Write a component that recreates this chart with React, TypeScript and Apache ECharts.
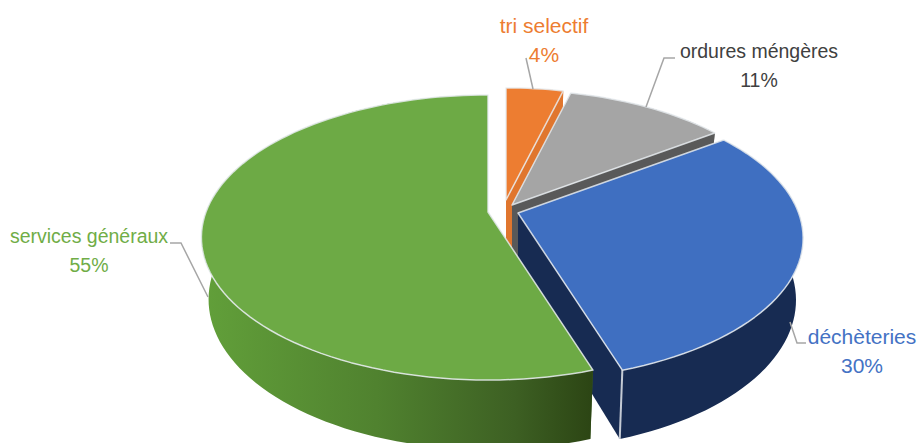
import React, { useEffect, useRef } from "react";
import * as echarts from "echarts";

const names = ["tri selectif", "ordures méngères", "déchèteries", "services généraux"];
const values = [4, 11, 30, 55];
const topColors = ["#ED7D31", "#A5A5A5", "#3F6FC1", "#6DAA45"];
const wallColors = ["#E0762E", "#595959", "#172B52", "#4C7A2E"];
const labelColors = ["#ED7D31", "#404040", "#4472C4", "#70AD47"];
const radii = [0.95, 0.98, 0.995, 1];
const tips = [[506, 200], [512, 205], [518, 213], [488, 212]];
const labelCenters = [[544, 25], [759, 51], [862, 336], [89, 236]];
const labelSizes = [21, 19.5, 21, 19.5];
const leaders = [
  [[526, 58], [533, 89]],
  [[675, 58], [664, 58], [646, 107]],
  [[790, 322], [797, 343], [806, 343]],
  [[170, 243], [181, 243], [208, 297]],
];

const A = 282;
const B = 138;
const P = 0.1786;
const H0 = 60.5;
const K = 0.975;

const total = values.reduce((a, b) => a + b, 0);

function topPoint(i: number, deg: number): number[] {
  const t = (deg * Math.PI) / 180;
  const X = radii[i] * Math.sin(t);
  const Y = radii[i] * Math.cos(t);
  const f = 1 / (1 + P * Y);
  return [tips[i][0] + A * X * f, tips[i][1] - B * Y * f];
}
function bottomPoint(i: number, deg: number): number[] {
  const t = (deg * Math.PI) / 180;
  const Y = radii[i] * Math.cos(t);
  const f = 1 / (1 + P * Y);
  const p = topPoint(i, deg);
  return [tips[i][0] + (p[0] - tips[i][0]) * K, tips[i][1] + (p[1] - tips[i][1]) * K + H0 * f];
}
function arc(i: number, a0: number, a1: number, fn: (i: number, d: number) => number[]) {
  const pts: number[][] = [];
  const n = Math.max(4, Math.ceil((a1 - a0) / 2));
  for (let k = 0; k <= n; k++) pts.push(fn(i, a0 + ((a1 - a0) * k) / n));
  return pts;
}

export default function App() {
  const ref = useRef<HTMLDivElement>(null);
  useEffect(() => {
    const chart = echarts.init(ref.current!, undefined, { renderer: "svg" });
    const greenWall = new echarts.graphic.LinearGradient(
      200, 0, 592, 0,
      [
        { offset: 0, color: "#62A03A" },
        { offset: 0.45, color: "#50822F" },
        { offset: 0.8, color: "#3D6023" },
        { offset: 1, color: "#2C4514" },
      ],
      true
    );
    const renderItem = (params: any, api: any) => {
      const i = params.dataIndex;
      const v = api.value(0);
      let before = 0;
      for (let k = 0; k < i; k++) before += values[k];
      const a0 = (before / total) * 360;
      const a1 = a0 + (v / total) * 360;
      const tip = tips[i];
      const tipBottom = [tip[0], tip[1] + H0];
      const wallFill: any = i === 3 ? greenWall : wallColors[i];
      const children: any[] = [];
      [a0, a1].forEach((a) => {
        children.push({
          type: "polygon",
          shape: { points: [tip, topPoint(i, a), bottomPoint(i, a), tipBottom] },
          style: { fill: i === 3 ? "#3D6023" : wallColors[i], stroke: "none" },
        });
      });
      children.push({
        type: "polygon",
        shape: { points: [...arc(i, a0, a1, topPoint), ...arc(i, a0, a1, bottomPoint).reverse()] },
        style: { fill: wallFill, stroke: "none" },
      });
      if (i === 2) {
        const p = topPoint(i, a1);
        const q = bottomPoint(i, a1);
        children.push({
          type: "line",
          shape: { x1: p[0], y1: p[1], x2: q[0], y2: q[1] },
          style: { stroke: "#C4CAD4", lineWidth: 2 },
        });
      }
      children.push({
        type: "polygon",
        shape: { points: [tip, ...arc(i, a0, a1, topPoint)] },
        style: {
          fill: topColors[i],
          stroke: "rgba(232,236,240,0.85)",
          lineWidth: 1.5,
          lineJoin: "round",
        },
      });
      return { type: "group", children };
    };
    const texts: any[] = [];
    names.forEach((name, i) => {
      const color = labelColors[i];
      const c = labelCenters[i];
      const font = `${labelSizes[i]}px "Liberation Sans", Arial, sans-serif`;
      texts.push({
        type: "text", x: c[0], y: c[1], z: 10,
        style: { text: name, fill: color, font, textAlign: "center", textVerticalAlign: "middle" },
      });
      texts.push({
        type: "text", x: c[0], y: c[1] + 29, z: 10,
        style: {
          text: Math.round((values[i] / total) * 100) + "%",
          fill: color, font, textAlign: "center", textVerticalAlign: "middle",
        },
      });
      texts.push({
        type: "polyline", z: 9,
        shape: { points: leaders[i] },
        style: { stroke: "#A6A6A6", lineWidth: 1.5, fill: "none" },
      });
    });
    chart.setOption({
      animation: false,
      backgroundColor: "#fff",
      series: [
        {
          type: "custom",
          coordinateSystem: "none",
          renderItem,
          silent: true,
          data: values.map((v, i) => ({ name: names[i], value: [v] })),
        },
      ],
      graphic: { elements: texts },
    });
    return () => chart.dispose();
  }, []);
  return <div ref={ref} style={{ position: "fixed", left: 0, top: 0, width: 919, height: 443 }} />;
}
